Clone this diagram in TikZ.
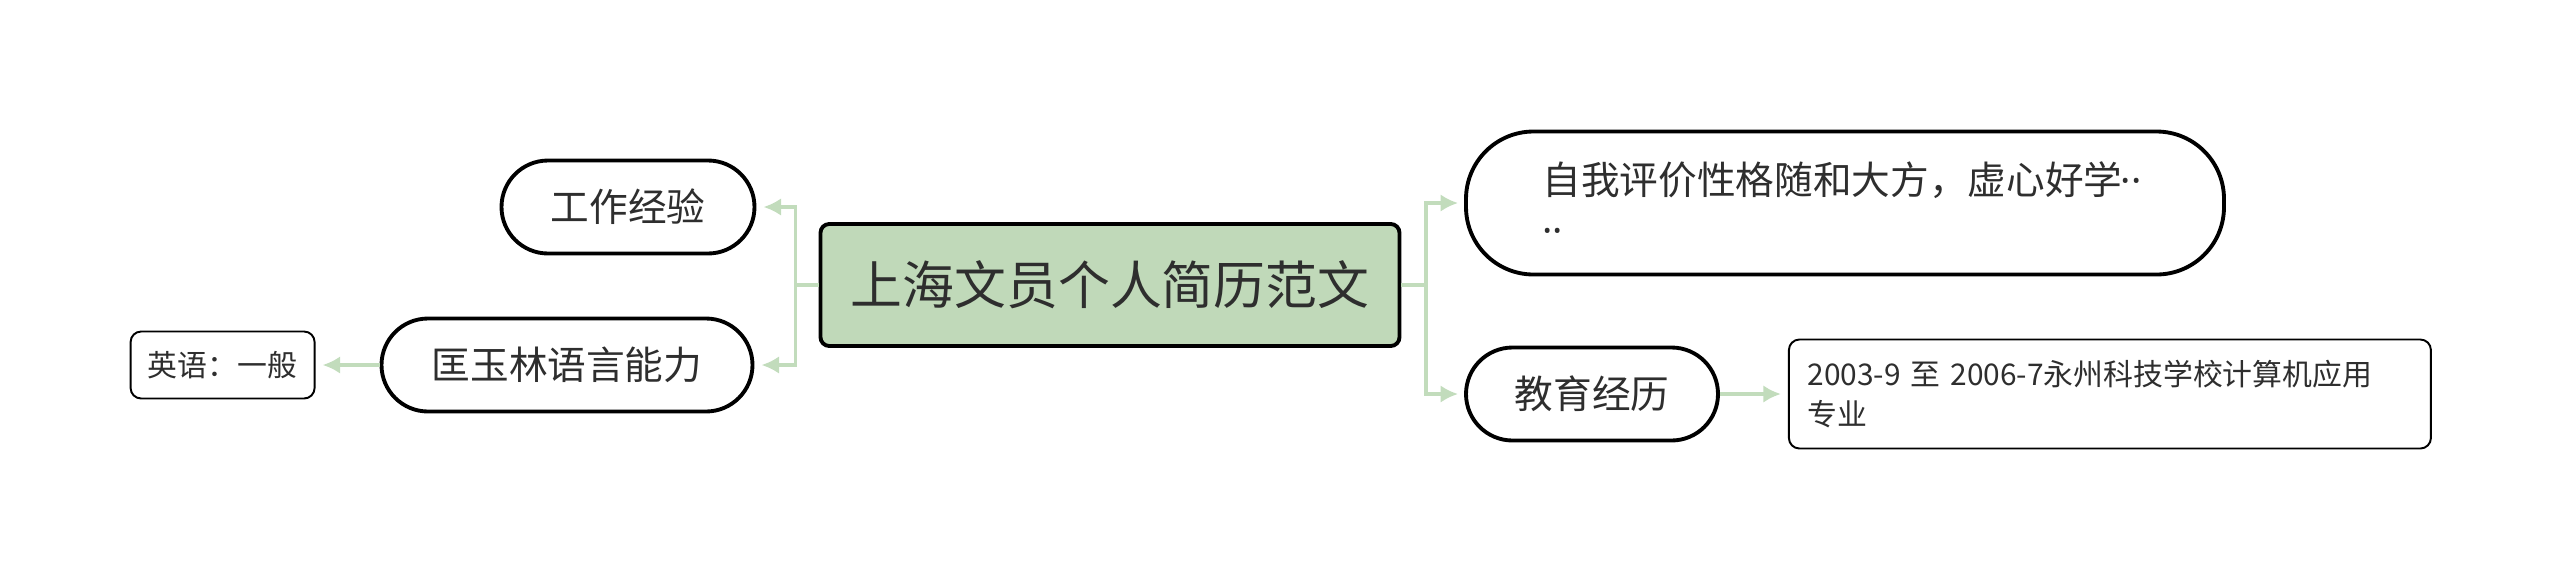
\documentclass[tikz,border=0pt]{standalone}
\usepackage{fontspec}
\setmainfont{Noto Sans CJK SC}
\newfontfamily\latinfont{Noto Sans}
\usepackage{xcolor}
\usepackage{tikz}
\usetikzlibrary{positioning, arrows.meta}
\definecolor{linkgreen}{HTML}{C2DCBC}
\definecolor{rootgreen}{HTML}{C0D9B9}
\definecolor{inkgray}{HTML}{2E2E2E}

\tikzset{
  rootbox/.style={draw=black, line width=2.2pt, fill=rootgreen, rounded corners=5pt,
                  minimum width=11.58cm, minimum height=2.44cm,
                  font=\fontsize{29.5}{34}\selectfont, text=inkgray},
  pillbox/.style={draw=black, line width=2.2pt, fill=white, rounded corners=0.93cm,
                  minimum height=1.86cm, font=\fontsize{22}{28}\selectfont, text=inkgray},
  notebox/.style={draw=black, line width=1.1pt, fill=white, rounded corners=6pt,
                  font=\fontsize{17}{23}\selectfont, text=inkgray},
  link/.style={draw=linkgreen, line width=2pt, -{Latex[length=10pt,width=10pt]}},
}

\begin{document}
\begin{tikzpicture}
    \useasboundingbox (0,0) rectangle (51.2,-11.62);

    \node[rootbox] (root) at (22.2,-5.7) {上海文员个人简历范文};

    % left side
    \node[pillbox, minimum width=5.06cm] (work) at (12.56,-4.14) {工作经验};
    \node[pillbox, minimum width=7.42cm] (lang) at (11.34,-7.3) {匡玉林语言能力};
    \node[notebox, minimum width=3.68cm, minimum height=1.34cm, left=1.28cm of lang] (eng) {英语：一般};

    % right side
    \node[pillbox, rounded corners=1.35cm, minimum width=15.16cm, minimum height=2.86cm,
          text width=12.1cm, align=left] (self) at (36.9,-4.06)
          {自我评价性格随和大方，虚心好学{\latinfont\kern-1pt··}\\{\latinfont··}};
    \node[pillbox, minimum width=5.04cm] (edu) at (31.84,-7.88) {教育经历};
    \node[notebox, minimum width=12.84cm, minimum height=2.18cm, text width=12.1cm,
          align=left, right=1.36cm of edu] (study)
          {2003-9 至 2006-7永州科技学校计算机应用\\专业};

    \draw[link] (root.west) -- ++(-0.46,0) coordinate (lfork) |- ([xshift=0.14cm]work.east);
    \draw[link] (lfork) |- ([xshift=0.14cm]lang.east);
    \draw[link] (root.east) -- ++(0.49,0) coordinate (rfork) |- ([xshift=-0.12cm]self.west);
    \draw[link] (rfork) |- ([xshift=-0.12cm]edu.west);
    \draw[link] (lang.west) -- ([xshift=0.14cm]eng.east);
    \draw[link] (edu.east) -- ([xshift=-0.14cm]study.west);
\end{tikzpicture}
\end{document}
